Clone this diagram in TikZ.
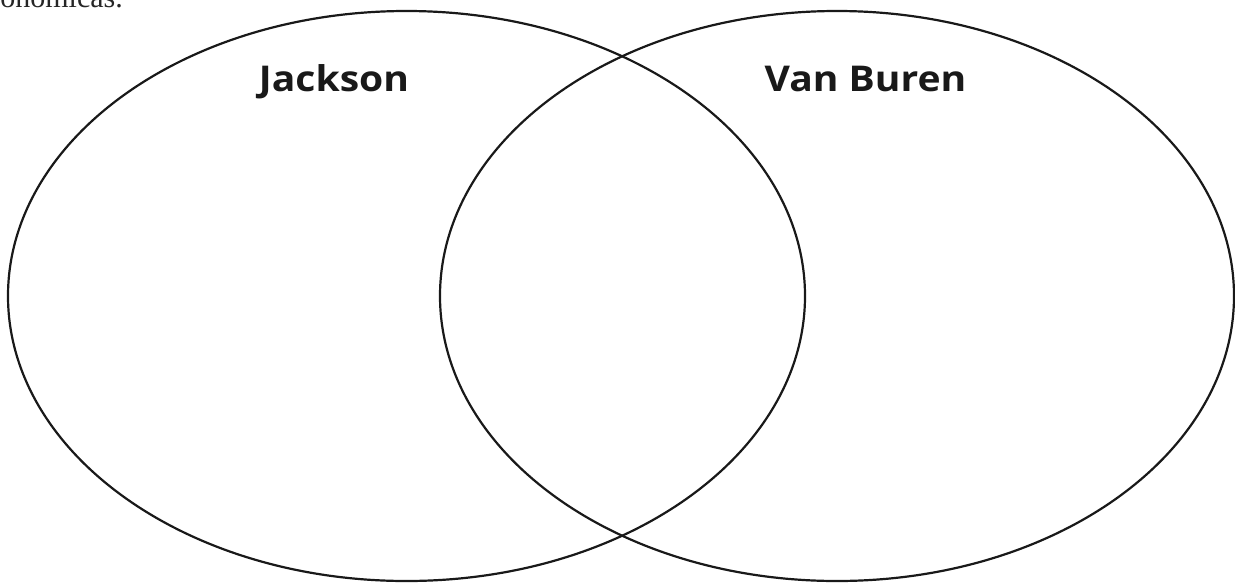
\documentclass[tikz,border=0pt]{standalone}
\usepackage{fontspec}
\setmainfont{Liberation Serif}
\newfontfamily\labelfont{Open Sans}
\usetikzlibrary{shapes.geometric}
\tikzset{
  venn/.style={draw=black!90, line width=2.2pt, ellipse, inner sep=0pt, minimum width=#1},
  setlabel/.style={font=\labelfont\bfseries\fontsize{35.5}{40}\selectfont, text=black!90, inner sep=0pt, anchor=base, xscale=1.1, transform shape},
}
\begin{document}
\begin{tikzpicture}[x=1pt,y=1pt]
\useasboundingbox (0,0) rectangle (1235,-582);
\node[anchor=base east, inner sep=0pt, font=\fontsize{30}{34}\selectfont, text=black!85] (top) at (123,-7.5) {económicas.};
\node[venn=797pt, minimum height=570pt] (jack) at (406.5,-296) {};
\node[venn=794pt, minimum height=570pt] (van) at (837,-296) {};
\node[setlabel] (jl) at (334,-91.5) {Jackson};
\node[setlabel] (vl) at (865.5,-91.5) {Van Buren};
\end{tikzpicture}
\end{document}
